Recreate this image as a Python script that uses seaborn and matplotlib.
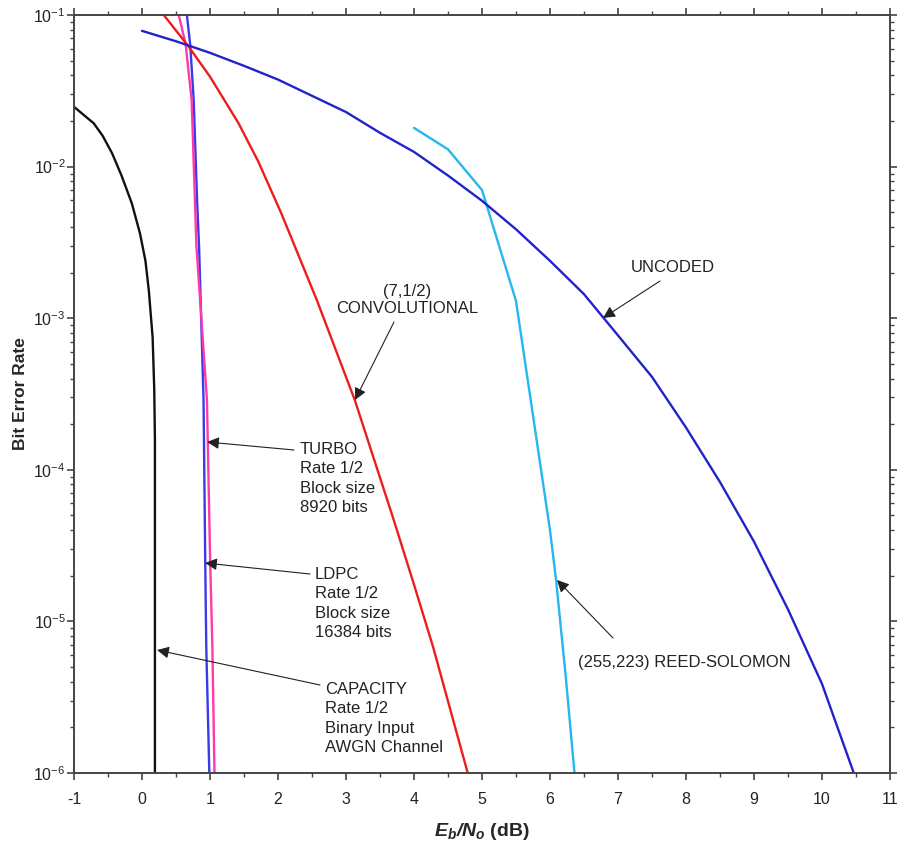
import matplotlib
matplotlib.use("Agg")
import matplotlib.pyplot as plt
import seaborn as sns
import pandas as pd
from matplotlib.ticker import MultipleLocator, LogLocator

# ---- data ----
capacity_x = [-1.0, -0.71, -0.58, -0.44, -0.3, -0.15, -0.03, 0.05, 0.10, 0.156, 0.18, 0.19, 0.19]
capacity_y = [0.0248, 0.0193, 0.016, 0.01225, 0.0087, 0.00573, 0.00363, 0.0024, 0.00153, 7.5e-4,
              3.4e-4, 1.6e-4, 1e-6]

turbo_x = [0.66, 0.71, 0.76, 0.81, 0.84, 0.905, 0.93, 0.945, 0.99]
turbo_y = [0.1, 0.063, 0.0275, 0.006, 0.0029, 2.9e-4, 2.43e-5, 6.8e-6, 1e-6]

ldpc_x = [0.54, 0.64, 0.73, 0.80, 0.955, 1.003, 1.035, 1.066]
ldpc_y = [0.1, 0.065, 0.0275, 0.003, 2.9e-4, 2.43e-5, 6.8e-6, 1e-6]

conv_x = [0.32, 0.68, 1.0, 1.42, 1.71, 2.05, 2.57, 3.13, 3.7, 4.0, 4.28, 4.79]
conv_y = [0.1, 0.0624, 0.0392, 0.0193, 0.0108, 0.0049, 1.32e-3, 2.88e-4, 4.7e-5, 1.75e-5,
          6.8e-6, 1e-6]

rs_x = [4.0, 4.5, 5.0, 5.5, 6.0, 6.09, 6.23, 6.36]
rs_y = [0.018, 0.013, 0.007, 1.3e-3, 4e-5, 1.86e-5, 4.4e-6, 1e-6]

uncoded_x = [0.0, 0.5, 1.0, 1.5, 2.0, 2.5, 3.0, 3.5, 4.0, 4.5, 5.0, 5.5, 6.0, 6.5, 7.0,
             7.5, 8.0, 8.5, 9.0, 9.5, 10.0, 10.5]
uncoded_y = [0.0786, 0.0671, 0.0563, 0.0462, 0.0375, 0.0293, 0.0229, 0.0167, 0.0125, 0.00873,
             0.00595, 0.00386, 0.00239, 0.00144, 7.7e-4, 4.1e-4, 1.9e-4, 8.3e-5, 3.36e-5,
             1.2e-5, 3.87e-6, 9.1e-7]

x_ticks = list(range(-1, 12))
y_ticks = [1e-6, 1e-5, 1e-4, 1e-3, 1e-2, 1e-1]

series = {
    "CAPACITY": (capacity_x, capacity_y, "#111111"),
    "TURBO": (turbo_x, turbo_y, "#3a3ae8"),
    "LDPC": (ldpc_x, ldpc_y, "#ff3aa8"),
    "CONV": (conv_x, conv_y, "#ee1c1c"),
    "RS": (rs_x, rs_y, "#27b6ee"),
    "UNCODED": (uncoded_x, uncoded_y, "#2222cc"),
}

rows = []
for name, (xs, ys, _) in series.items():
    for i, (a, b) in enumerate(zip(xs, ys)):
        rows.append({"code": name, "ebno": a, "ber": b, "order": i})
df = pd.DataFrame(rows)

sns.set_style("ticks")
plt.rcParams["font.family"] = ["Liberation Sans", "DejaVu Sans"]
plt.rcParams["mathtext.fontset"] = "custom"
plt.rcParams["mathtext.rm"] = "Liberation Sans"
plt.rcParams["mathtext.it"] = "Liberation Sans:italic"
plt.rcParams["mathtext.bf"] = "Liberation Sans:bold"
try:
    plt.rcParams["mathtext.bfit"] = "Liberation Sans:bold:italic"
except KeyError:
    pass

fig = plt.figure(figsize=(8.98, 8.47), dpi=100)
ax = fig.add_axes([74 / 898, 1 - 773 / 847, (890 - 74) / 898, (773 - 15) / 847])

for name, (xs, ys, col) in series.items():
    sub = df[df["code"] == name]
    sns.lineplot(data=sub, x="ebno", y="ber", sort=False, estimator=None,
                 color=col, lw=1.7, ax=ax)

ax.set_yscale("log")
ax.set_xlim(-1, 11)
ax.set_ylim(1e-6, 1e-1)
ax.set_xticks(x_ticks)
ax.set_xticklabels([str(t) for t in x_ticks])
ax.xaxis.set_minor_locator(MultipleLocator(0.5))
ax.set_yticks(y_ticks)
ax.yaxis.set_minor_locator(LogLocator(base=10, subs=range(2, 10), numticks=20))

for s in ax.spines.values():
    s.set_linewidth(1.4)
    s.set_color("#444444")
ax.tick_params(which="both", direction="out", top=True, right=True, color="#444444",
               labelcolor="#222222")
ax.tick_params(which="major", length=5, width=1.2)
ax.tick_params(which="minor", length=3, width=1.0)
ax.tick_params(axis="x", pad=9, labelsize=11.5)
ax.tick_params(axis="y", pad=1, labelsize=11.5)

ax.set_ylabel("Bit Error Rate", fontsize=12.5, fontweight="bold", labelpad=4)
ax.set_xlabel(r"$\mathbfit{E_b/N_o}$ (dB)", fontsize=14, fontweight="bold", labelpad=10)

txt_kw = dict(fontsize=12, color="#222222", linespacing=1.36)
arrow_kw = dict(arrowstyle="-|>", color="#222222", lw=0.8, mutation_scale=18,
                shrinkA=0, shrinkB=0)

def px(xp, yp):
    return (xp / 898, 1 - yp / 847)

# Uncoded
ax.text(*px(673, 267), "UNCODED", transform=fig.transFigure, ha="center", va="center", **txt_kw)
ax.annotate("", xy=px(603, 318), xytext=px(660, 281), xycoords="figure fraction",
            textcoords="figure fraction", arrowprops=arrow_kw)
# Convolutional
ax.text(*px(407, 300), "(7,1/2)\nCONVOLUTIONAL", transform=fig.transFigure,
        ha="center", va="center", fontsize=12, color="#222222", linespacing=1.12)
ax.annotate("", xy=px(355, 400), xytext=px(394, 322), xycoords="figure fraction",
            textcoords="figure fraction", arrowprops=arrow_kw)
# Turbo
ax.text(*px(300, 442), "TURBO\nRate 1/2\nBlock size\n8920 bits", transform=fig.transFigure,
        ha="left", va="top", **txt_kw)
ax.annotate("", xy=px(207, 442), xytext=px(294, 450), xycoords="figure fraction",
            textcoords="figure fraction", arrowprops=arrow_kw)
# LDPC
ax.text(*px(315, 567), "LDPC\nRate 1/2\nBlock size\n16384 bits", transform=fig.transFigure,
        ha="left", va="top", **txt_kw)
ax.annotate("", xy=px(205, 563), xytext=px(310, 574), xycoords="figure fraction",
            textcoords="figure fraction", arrowprops=arrow_kw)
# Capacity
ax.text(*px(325, 682), "CAPACITY\nRate 1/2\nBinary Input\nAWGN Channel", transform=fig.transFigure,
        ha="left", va="top", **txt_kw)
ax.annotate("", xy=px(157, 650), xytext=px(320, 685), xycoords="figure fraction",
            textcoords="figure fraction", arrowprops=arrow_kw)
# Reed-Solomon
ax.text(*px(578, 663), "(255,223) REED-SOLOMON", transform=fig.transFigure,
        ha="left", va="center", **txt_kw)
ax.annotate("", xy=px(557, 580), xytext=px(613, 638), xycoords="figure fraction",
            textcoords="figure fraction", arrowprops=arrow_kw)

fig.savefig("out.png", dpi=100)
